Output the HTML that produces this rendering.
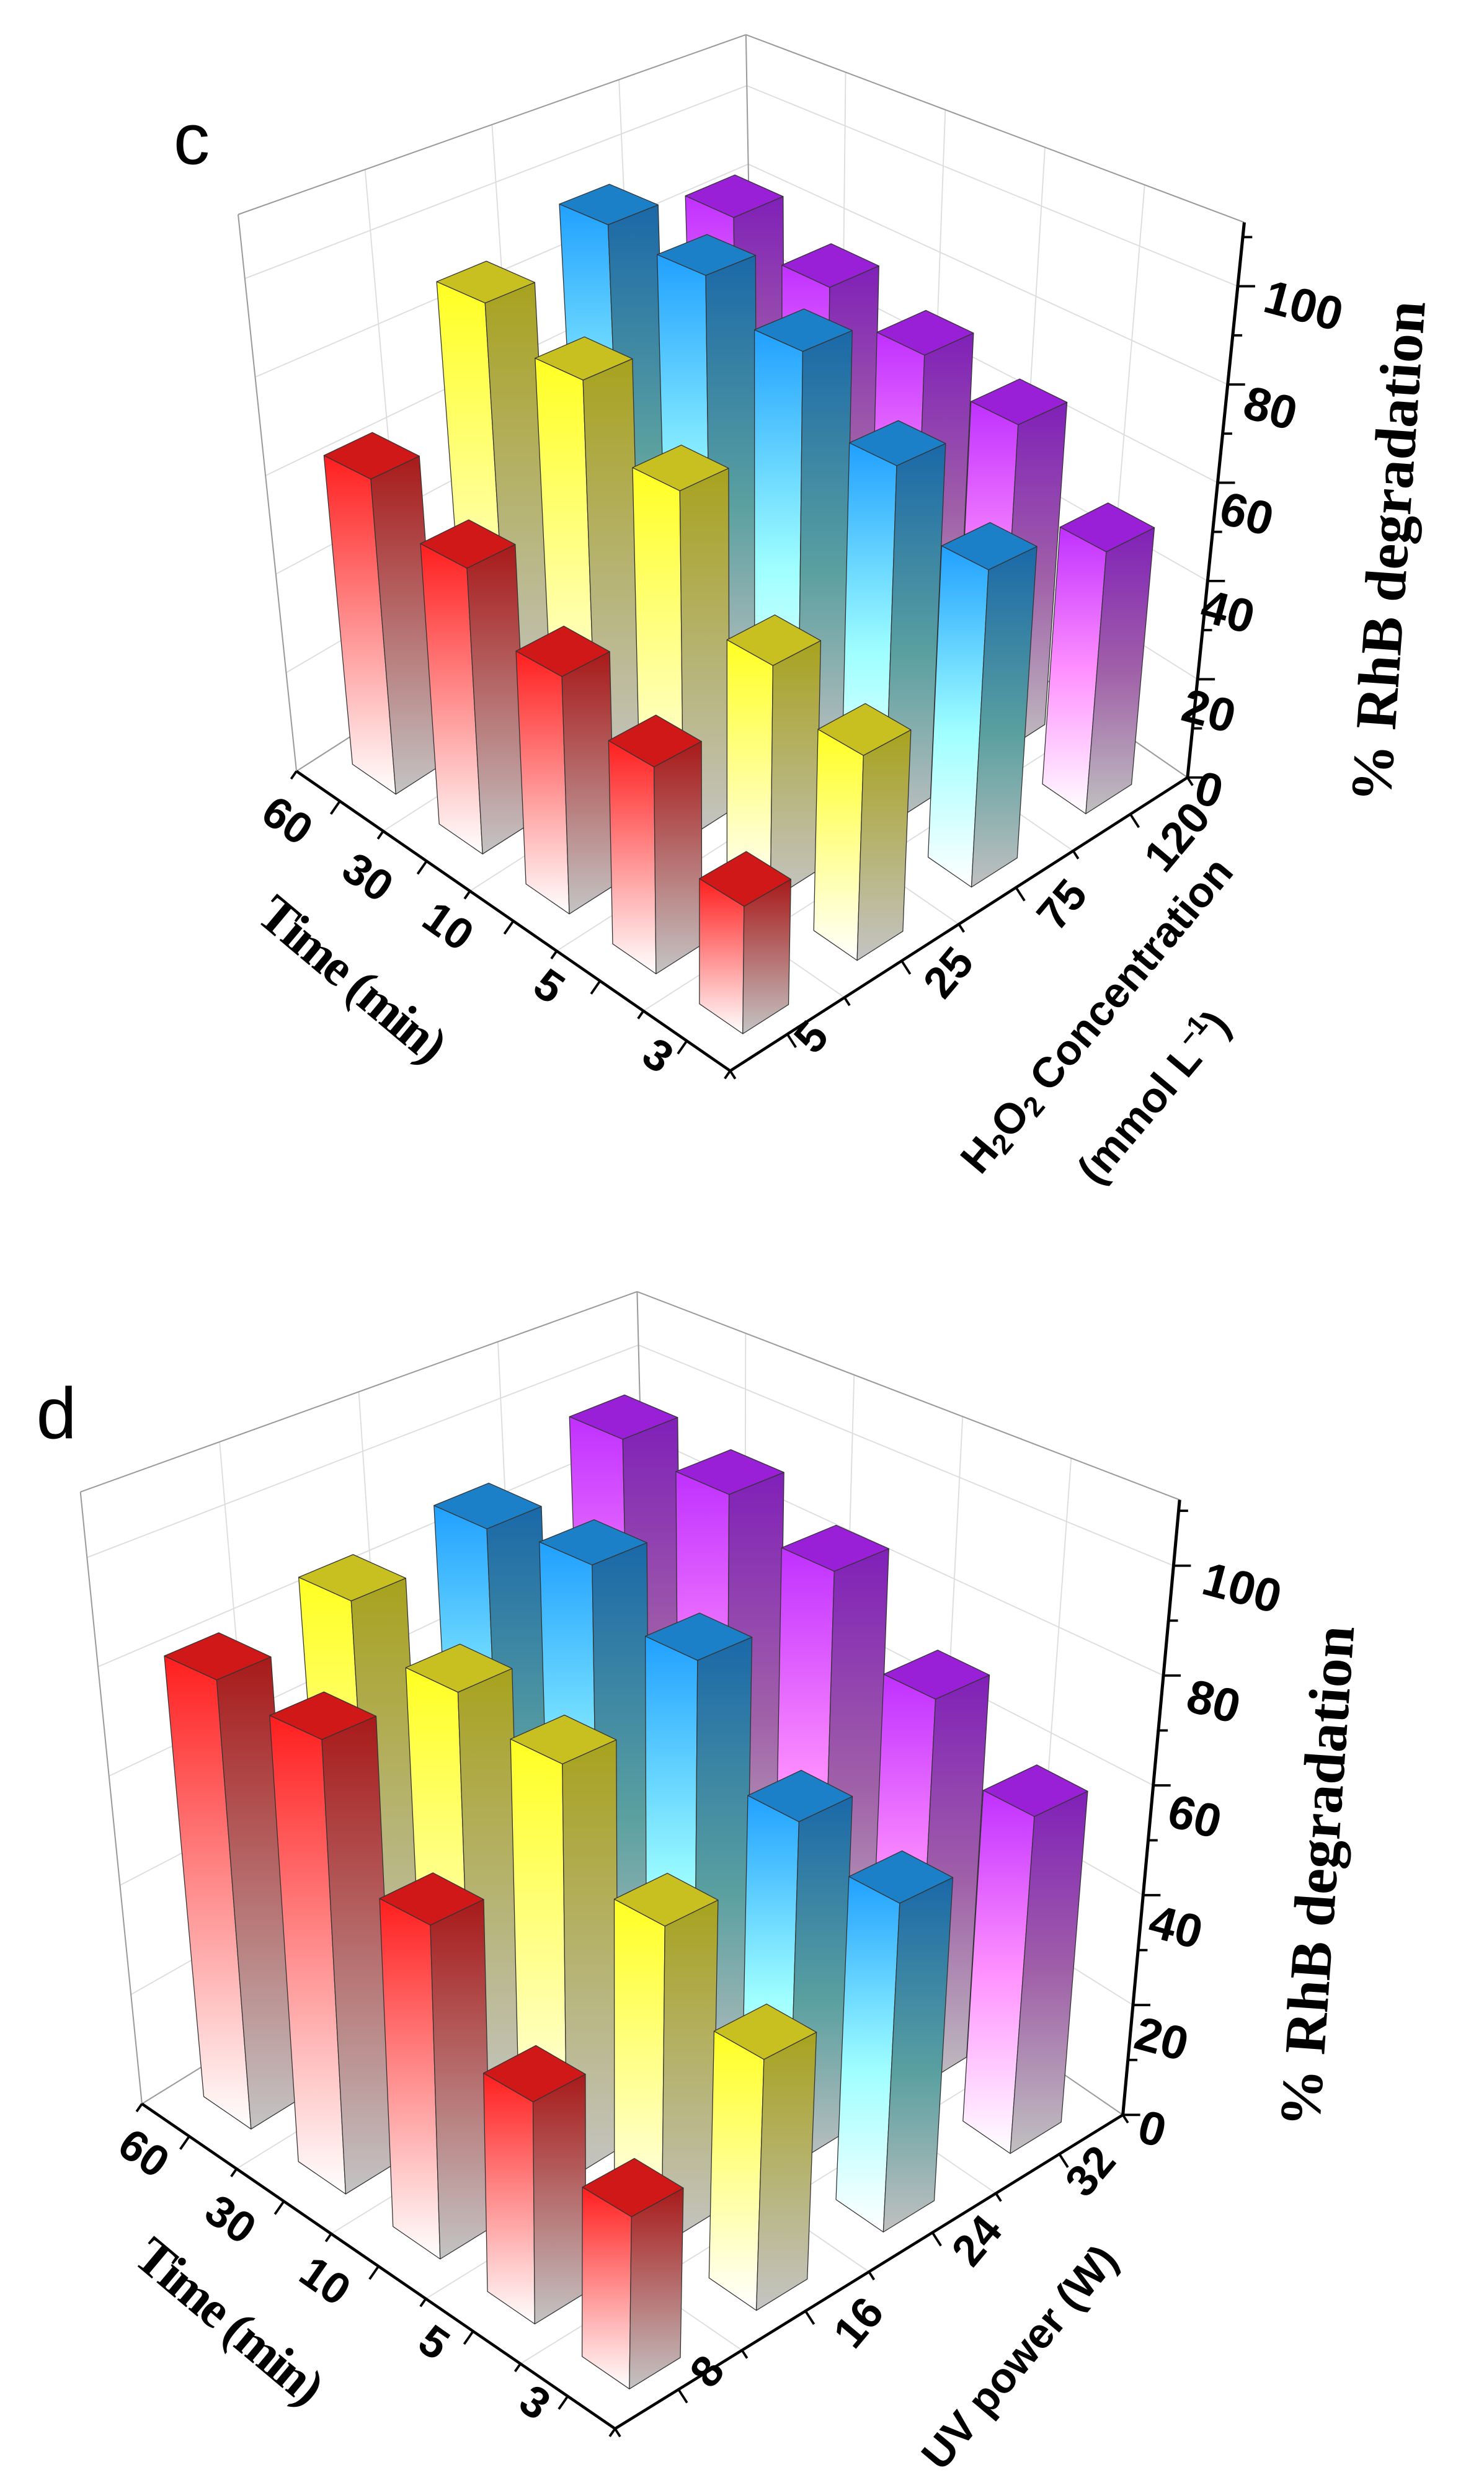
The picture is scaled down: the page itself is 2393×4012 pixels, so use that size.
<!DOCTYPE html>
<html><head><meta charset="utf-8"><style>
html,body{margin:0;padding:0;background:#fff;}
svg{display:block;}
.tk{font-family:"Liberation Sans",sans-serif;font-weight:bold;font-size:28px;fill:#000;}
.zk{font-family:"Liberation Sans",sans-serif;font-weight:bold;font-size:30px;fill:#000;}
.ser{font-family:"Liberation Serif",serif;font-weight:bold;fill:#000;}
.sans{font-family:"Liberation Sans",sans-serif;fill:#000;}
.sb{font-family:"Liberation Sans",sans-serif;font-weight:bold;fill:#000;}
</style></head><body>
<svg id="s" xmlns="http://www.w3.org/2000/svg" width="2393" height="4012" viewBox="0 0 941 1577.6" preserveAspectRatio="none">
<defs>
<linearGradient id="rL" x1="0" y1="0" x2="0" y2="1"><stop offset="0" stop-color="#ff1e1e"/><stop offset="1" stop-color="#ffffff"/></linearGradient>
<linearGradient id="rR" x1="0" y1="0" x2="0" y2="1"><stop offset="0" stop-color="#a81a1a"/><stop offset="1" stop-color="#c4c4c4"/></linearGradient>
<linearGradient id="yL" x1="0" y1="0" x2="0" y2="1"><stop offset="0" stop-color="#ffff22"/><stop offset="1" stop-color="#ffffff"/></linearGradient>
<linearGradient id="yR" x1="0" y1="0" x2="0" y2="1"><stop offset="0" stop-color="#a8a21e"/><stop offset="1" stop-color="#c4c4c4"/></linearGradient>
<linearGradient id="bL" x1="0" y1="0" x2="0" y2="1"><stop offset="0" stop-color="#20a0ff"/><stop offset="0.55" stop-color="#a0ffff"/><stop offset="1" stop-color="#ffffff"/></linearGradient>
<linearGradient id="bR" x1="0" y1="0" x2="0" y2="1"><stop offset="0" stop-color="#1a68a8"/><stop offset="0.55" stop-color="#5aa0a0"/><stop offset="1" stop-color="#c0c0c0"/></linearGradient>
<linearGradient id="pL" x1="0" y1="0" x2="0" y2="1"><stop offset="0" stop-color="#c030ff"/><stop offset="0.5" stop-color="#ff90ff"/><stop offset="1" stop-color="#ffffff"/></linearGradient>
<linearGradient id="pR" x1="0" y1="0" x2="0" y2="1"><stop offset="0" stop-color="#8020b8"/><stop offset="0.5" stop-color="#a060a8"/><stop offset="1" stop-color="#c0c0c0"/></linearGradient>
</defs>
<g id="g0"></g>
<g id="g1"></g>
<!-- chart c labels -->
<text class="sans" x="110" y="104" font-size="46">c</text>
<text class="tk" transform="translate(181,522) rotate(35)" text-anchor="middle" dominant-baseline="middle">60</text>
<text class="tk" transform="translate(232,558) rotate(35)" text-anchor="middle" dominant-baseline="middle">30</text>
<text class="tk" transform="translate(283,589) rotate(35)" text-anchor="middle" dominant-baseline="middle">10</text>
<text class="tk" transform="translate(347,627) rotate(35)" text-anchor="middle" dominant-baseline="middle">5</text>
<text class="tk" transform="translate(416,671) rotate(35)" text-anchor="middle" dominant-baseline="middle">3</text>
<text class="tk" transform="translate(516,659) rotate(-50)" text-anchor="middle" dominant-baseline="middle">5</text>
<text class="tk" transform="translate(603,618) rotate(-50)" text-anchor="middle" dominant-baseline="middle">25</text>
<text class="tk" transform="translate(675,575) rotate(-50)" text-anchor="middle" dominant-baseline="middle">75</text>
<text class="tk" transform="translate(748,532) rotate(-50)" text-anchor="middle" dominant-baseline="middle">120</text>
<text class="zk" transform="translate(826,196) rotate(15)" text-anchor="middle" dominant-baseline="middle">100</text>
<text class="zk" transform="translate(805,261) rotate(15)" text-anchor="middle" dominant-baseline="middle">80</text>
<text class="zk" transform="translate(790,328) rotate(15)" text-anchor="middle" dominant-baseline="middle">60</text>
<text class="zk" transform="translate(778,390) rotate(15)" text-anchor="middle" dominant-baseline="middle">40</text>
<text class="zk" transform="translate(766,453) rotate(15)" text-anchor="middle" dominant-baseline="middle">20</text>
<text class="zk" transform="translate(766,503) rotate(15)" text-anchor="middle" dominant-baseline="middle">0</text>
<text class="ser" font-size="37" transform="translate(884,350) rotate(-86)" text-anchor="middle" dominant-baseline="middle">% RhB degradation</text>
<text class="ser" font-size="33" transform="translate(221,623) rotate(40)" text-anchor="middle" dominant-baseline="middle" letter-spacing="-1.5">Time (min)</text>
<text class="sb" font-size="27" transform="translate(697,645) rotate(-50)" text-anchor="middle" dominant-baseline="middle">H<tspan font-size="18" dy="6">2</tspan><tspan dy="-6">O</tspan><tspan font-size="18" dy="6">2</tspan><tspan dy="-6"> Concentration</tspan></text>
<text class="sb" font-size="27" transform="translate(733,697) rotate(-50)" text-anchor="middle" dominant-baseline="middle">(mmol L<tspan font-size="17" dy="-9">–1</tspan><tspan dy="9">)</tspan></text>
<!-- chart d labels -->
<text class="sans" x="23" y="912" font-size="46">d</text>
<text class="tk" transform="translate(90,1367) rotate(35)" text-anchor="middle" dominant-baseline="middle">60</text>
<text class="tk" transform="translate(145,1409) rotate(35)" text-anchor="middle" dominant-baseline="middle">30</text>
<text class="tk" transform="translate(205,1448) rotate(35)" text-anchor="middle" dominant-baseline="middle">10</text>
<text class="tk" transform="translate(274,1487) rotate(35)" text-anchor="middle" dominant-baseline="middle">5</text>
<text class="tk" transform="translate(338,1525) rotate(35)" text-anchor="middle" dominant-baseline="middle">3</text>
<text class="tk" transform="translate(450,1505) rotate(-50)" text-anchor="middle" dominant-baseline="middle">8</text>
<text class="tk" transform="translate(546,1474) rotate(-50)" text-anchor="middle" dominant-baseline="middle">16</text>
<text class="tk" transform="translate(621,1422) rotate(-50)" text-anchor="middle" dominant-baseline="middle">24</text>
<text class="tk" transform="translate(693,1378) rotate(-50)" text-anchor="middle" dominant-baseline="middle">32</text>
<text class="zk" transform="translate(787,1009) rotate(15)" text-anchor="middle" dominant-baseline="middle">100</text>
<text class="zk" transform="translate(769,1081) rotate(15)" text-anchor="middle" dominant-baseline="middle">80</text>
<text class="zk" transform="translate(757,1154) rotate(15)" text-anchor="middle" dominant-baseline="middle">60</text>
<text class="zk" transform="translate(745,1224) rotate(15)" text-anchor="middle" dominant-baseline="middle">40</text>
<text class="zk" transform="translate(736,1295) rotate(15)" text-anchor="middle" dominant-baseline="middle">20</text>
<text class="zk" transform="translate(730,1352) rotate(15)" text-anchor="middle" dominant-baseline="middle">0</text>
<text class="ser" font-size="37" transform="translate(839,1190) rotate(-86)" text-anchor="middle" dominant-baseline="middle">% RhB degradation</text>
<text class="ser" font-size="33" transform="translate(143,1474) rotate(40)" text-anchor="middle" dominant-baseline="middle" letter-spacing="-1.5">Time (min)</text>
<text class="sb" font-size="27" transform="translate(648,1496) rotate(-50)" text-anchor="middle" dominant-baseline="middle">UV power (W)</text>
</svg>
<script>
var NS="http://www.w3.org/2000/svg";
var charts=[
{g:"g0",F:[463,679],L:[188,489],R:[753,493],TL:[151,136],TB:[473,22],TR:[789,141],zmax:113,
 vals:[[22,37,44,55,63],[37,44,68,81,88],[60,71,85,92,94],[52,68,73,78,84]]},
{g:"g1",F:[390,1540],L:[90,1334],R:[712,1341],TL:[51,946],TB:[404,819],TR:[748,951],zmax:112,
 vals:[[27,36,56,79,81],[41,54,73,77,85],[56,61,81,90,88],[60,72,87,93,95]]}
];
var cols=[["r","#d01818"],["y","#c8c020"],["b","#1c80c8"],["p","#9a20d8"]];
function el(g,tag,at){var e=document.createElementNS(NS,tag);for(var k in at)e.setAttribute(k,at[k]);g.appendChild(e);return e;}
charts.forEach(function(c){
 var g=document.getElementById(c.g);
 var TF=[c.TL[0]+c.TR[0]-c.TB[0],c.TL[1]+c.TR[1]-c.TB[1]];
 function P(u,v,w){
  var fx=c.F[0]+u*(c.L[0]-c.F[0])+v*(c.R[0]-c.F[0]);
  var fy=c.F[1]+u*(c.L[1]-c.F[1])+v*(c.R[1]-c.F[1]);
  var tx=TF[0]+u*(c.TL[0]-TF[0])+v*(c.TR[0]-TF[0]);
  var ty=TF[1]+u*(c.TL[1]-TF[1])+v*(c.TR[1]-TF[1]);
  return [fx+(tx-fx)*w,fy+(ty-fy)*w];
 }
 function line(a,b,st,sw){el(g,"line",{x1:a[0],y1:a[1],x2:b[0],y2:b[1],stroke:st,"stroke-width":sw});}
 var gc="#dcdcdc";
 for(var z=20;z<=100;z+=20){var w=z/c.zmax;line(P(1,0,w),P(1,1,w),gc,0.7);line(P(0,1,w),P(1,1,w),gc,0.7);}
 for(var k=1;k<5;k++){var u=k/5;line(P(u,1,0),P(u,1,1),gc,0.7);line(P(u,0,0),P(u,1,0),gc,0.7);}
 for(var k=1;k<4;k++){var v=k/4;line(P(1,v,0),P(1,v,1),gc,0.7);line(P(0,v,0),P(1,v,0),gc,0.7);}
 var ec="#9a9a9a";
 line(P(1,0,0),P(1,0,1),ec,0.8);line(P(1,1,0),P(1,1,1),ec,0.8);
 line(P(1,0,1),P(1,1,1),ec,0.8);line(P(1,1,1),P(0,1,1),ec,0.8);
 line(P(1,0,0),P(1,1,0),ec,0.8);line(P(1,1,0),P(0,1,0),ec,0.8);
 line(P(0,0,0),P(1,0,0),"#000",1.8);line(P(0,0,0),P(0,1,0),"#000",1.8);
 line(P(0,1,0),P(0,1,1),"#000",2);
 var du=[-0.57,0.82],dv=[0.54,0.84];
 for(var k=0;k<=10;k++){var u=k/10,a=P(u,0,0),L=(k%2)?10:6;line(a,[a[0]+du[0]*L,a[1]+du[1]*L],"#000",1.5);}
 for(var k=0;k<=8;k++){var v=k/8,a=P(0,v,0),L=(k%2)?10:6;line(a,[a[0]+dv[0]*L,a[1]+dv[1]*L],"#000",1.5);}
 for(var z=0;z<=c.zmax;z+=10){var a=P(0,1,z/c.zmax),L=(z%20==0)?11:6;line(a,[a[0]+L,a[1]],"#000",1.5);}
 var bars=[];
 for(var j=0;j<4;j++)for(var i=0;i<5;i++){var uc=(i+0.5)/5,vc=(j+0.5)/4;bars.push({i:i,j:j,uc:uc,vc:vc,y:P(uc,vc,0)[1]});}
 bars.sort(function(a,b){return a.y-b.y;});
 var h=0.05;
 function poly(pts,fill){el(g,"polygon",{points:pts.map(function(p){return p[0].toFixed(1)+","+p[1].toFixed(1);}).join(" "),fill:fill,stroke:"#333","stroke-width":0.5,"stroke-linejoin":"round"});}
 bars.forEach(function(b){
  var w=c.vals[b.j][b.i]/c.zmax,u0=b.uc-h,u1=b.uc+h,v0=b.vc-h,v1=b.vc+h,cl=cols[b.j];
  poly([P(u0,v0,0),P(u1,v0,0),P(u1,v0,w),P(u0,v0,w)],"url(#"+cl[0]+"L)");
  poly([P(u0,v0,0),P(u0,v1,0),P(u0,v1,w),P(u0,v0,w)],"url(#"+cl[0]+"R)");
  poly([P(u0,v0,w),P(u1,v0,w),P(u1,v1,w),P(u0,v1,w)],cl[1]);
 });
});
</script>
</body></html>
